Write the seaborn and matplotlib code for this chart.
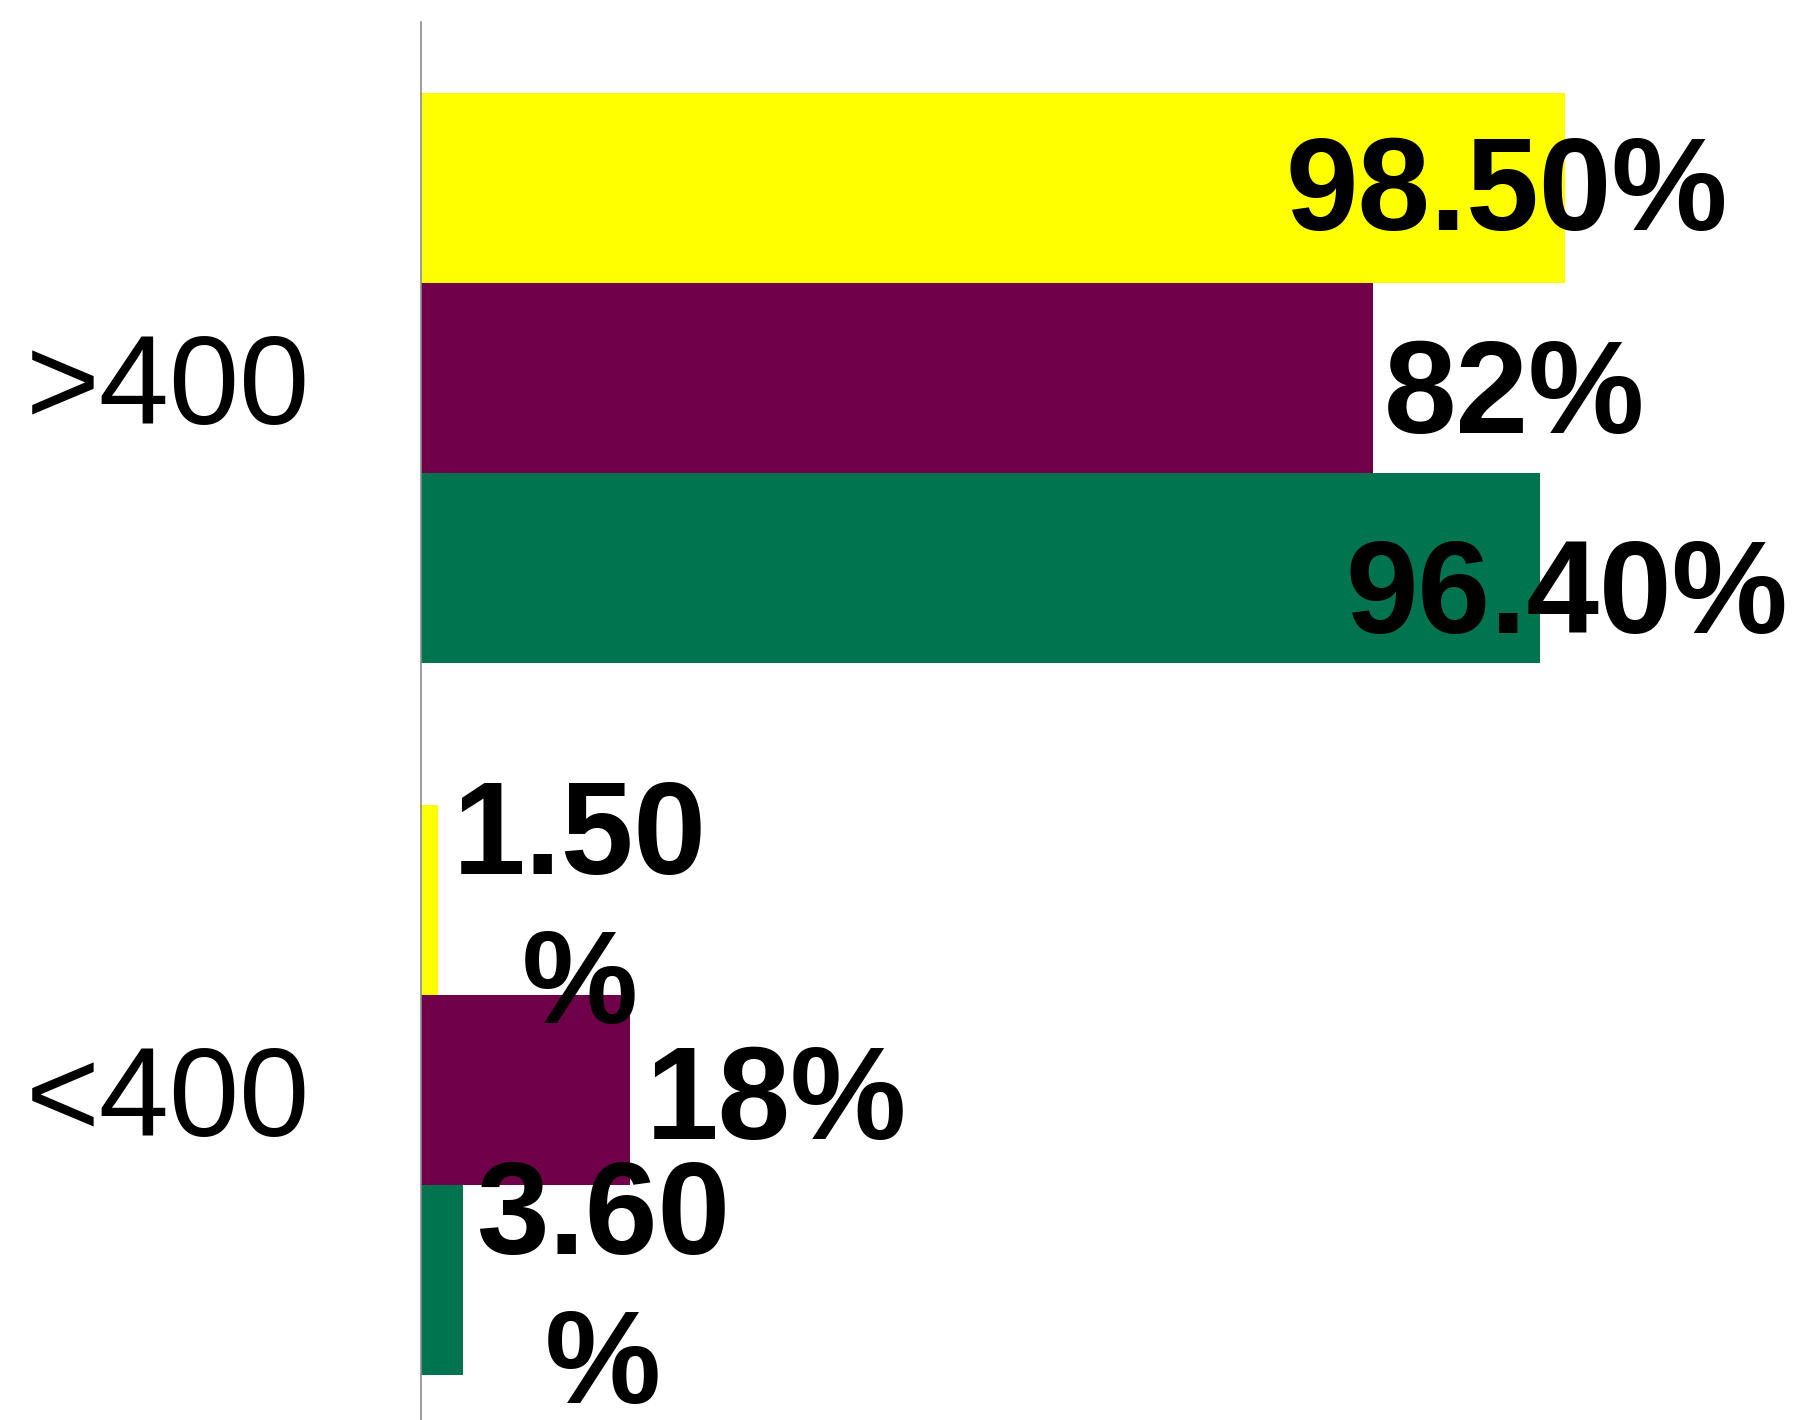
import matplotlib
matplotlib.use("Agg")
import matplotlib.pyplot as plt
import pandas as pd
import seaborn as sns

# values (percent)
categories = [">400", "<400"]
series_names = ["Series 1", "Series 2", "Series 3"]
series_1 = [98.5, 1.5]
series_2 = [82.0, 18.0]
series_3 = [96.4, 3.6]
labels_1 = ["98.50%", "1.50\n%"]
labels_2 = ["82%", "18%"]
labels_3 = ["96.40%", "3.60\n%"]

colors = ["#FFFF00", "#70004A", "#00734F"]
# where each data label sits relative to its bar end (percent units) and bar centre (points)
label_shift = [[-5.0, 12.2], [12.2, 12.6], [2.3, 12.1]]
label_drop = [[5.4, 9.9], [14.9, 9.9], [22.3, 10.0]]

df = pd.DataFrame({
    "category": categories * 3,
    "series": [s for s in series_names for _ in categories],
    "value": series_1 + series_2 + series_3,
})
labels = [labels_1, labels_2, labels_3]

sns.set_style("white")
plt.rcParams["font.family"] = ["Liberation Sans", "DejaVu Sans"]

fig = plt.figure(figsize=(17.96, 14.2), dpi=100)
ax = fig.add_axes([0.2344, 0.0, 0.6464, 0.9845])

sns.barplot(data=df, x="value", y="category", hue="series", order=categories,
            hue_order=series_names, palette=colors, orient="h", width=0.8,
            saturation=1, linewidth=0, legend=False, ax=ax)

ax.set_xlim(0, 100)
ax.set_ylim(1.463, -0.5)
ax.set_xlabel("")
ax.set_ylabel("")
ax.set_xticks([])
ax.tick_params(axis="y", length=0, pad=80, labelsize=91, labelcolor="black")

for side in ["top", "right", "bottom"]:
    ax.spines[side].set_visible(False)
ax.spines["left"].set_color("#8c8c8c")
ax.spines["left"].set_linewidth(1.2)

# data labels, placed from the drawn bars
for k, cont in enumerate(ax.containers):
    for j, bar in enumerate(cont):
        yc = bar.get_y() + bar.get_height() / 2
        xv = bar.get_width() + label_shift[k][j]
        ax.annotate(labels[k][j], xy=(xv, yc), xytext=(0, -label_drop[k][j]),
                    textcoords="offset points", ha="center", va="center",
                    multialignment="center", fontsize=94, fontweight="bold",
                    color="black", linespacing=1.27, annotation_clip=False)

fig.savefig("out.png", dpi=100)
